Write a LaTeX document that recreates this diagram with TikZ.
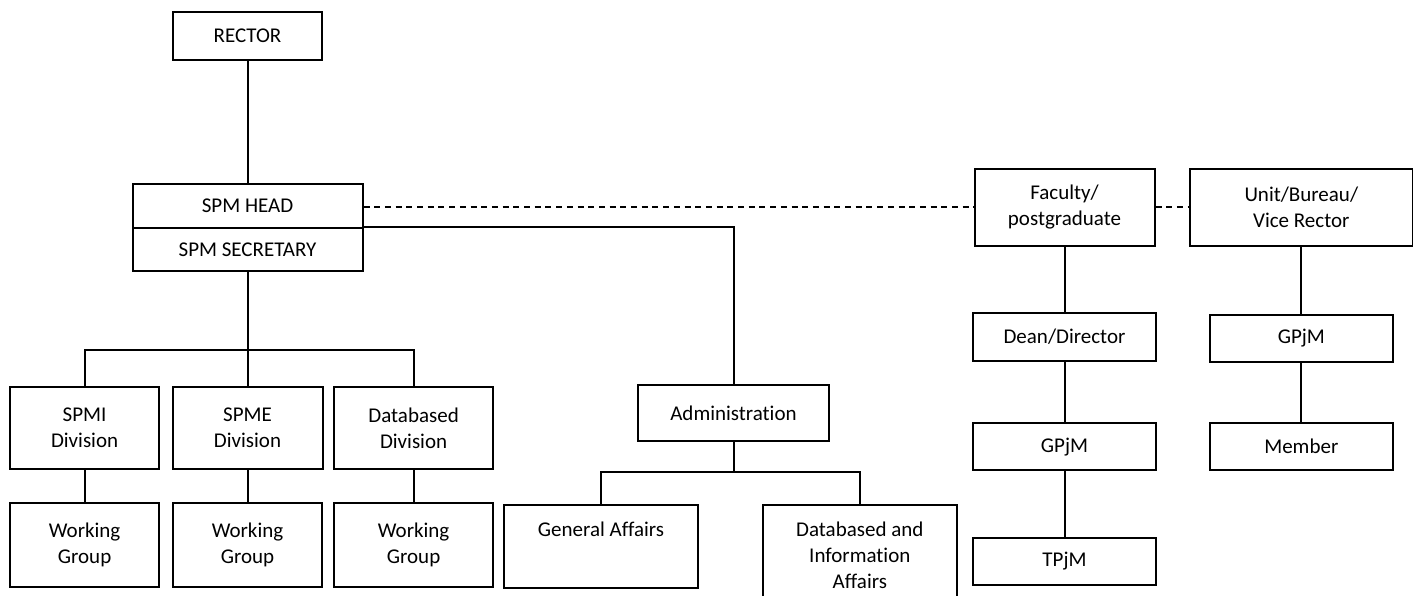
\documentclass[tikz,border=0pt]{standalone}
\usepackage{fontspec}
\setmainfont{Carlito}[Ligatures=NoCommon]
\begin{document}
\begin{tikzpicture}[x=1pt,y=-1pt,
  box/.style={draw, line width=2pt, inner sep=0pt, align=center,
              font=\fontsize{21}{26}\selectfont},
  link/.style={line width=2pt},
  dashlink/.style={line width=2pt, dash pattern=on 6pt off 4.7pt}]
\useasboundingbox (0,0) rectangle (1413,596);

% top of the hierarchy
\node[box, minimum width=149pt, minimum height=48pt] (rector) at (247.5,36) {RECTOR};
\node[box, minimum width=230pt, minimum height=44.3pt] (head) at (247.5,206.2) {SPM HEAD};
\node[box, minimum width=230pt, minimum height=42.4pt] (sec) at (247.5,249.5) {SPM SECRETARY};

% divisions and working groups
\node[box, minimum width=149pt, minimum height=82.6pt] (spmi) at (84.6,428) {SPMI\\Division};
\node[box, minimum width=150pt, minimum height=82.6pt] (spme) at (247.5,428) {SPME\\Division};
\node[box, minimum width=158.7pt, minimum height=82.6pt] (dbd) at (413.6,428) {Databased\\Division};
\node[box, minimum width=149.7pt, minimum height=84pt] (wg1) at (84.6,545.3) {Working\\Group};
\node[box, minimum width=149pt, minimum height=84pt] (wg2) at (247.5,545.3) {Working\\Group};
\node[box, minimum width=159pt, minimum height=84pt] (wg3) at (413.6,545.3) {Working\\Group};

% administration branch
\node[box, minimum width=191.6pt, minimum height=55.4pt] (adm) at (733.5,413) {Administration};
\node[box, minimum width=193.4pt, minimum height=83pt, text height=31.3pt, text depth=51.7pt] (ga) at (601,546.2) {General Affairs};
\node[box, minimum width=193.7pt, minimum height=101.3pt] (dia) at (859.8,555.3) {Databased and\\Information\\Affairs};

% faculty column
\node[box, minimum width=180pt, minimum height=76.4pt] (fac) at (1064.5,207.5) {Faculty/\\postgraduate};
\node[box, minimum width=182.7pt, minimum height=47.4pt] (dean) at (1064.5,337) {Dean/Director};
\node[box, minimum width=182.7pt, minimum height=46.7pt] (gpjmA) at (1064.5,446.7) {GPjM};
\node[box, minimum width=182.7pt, minimum height=47.3pt] (tpjm) at (1064.5,561.3) {TPjM};

% unit column
\node[box, minimum width=222.5pt, minimum height=76.4pt] (unit) at (1301.3,207.5) {Unit/Bureau/\\Vice Rector};
\node[box, minimum width=183pt, minimum height=47pt] (gpjmB) at (1301.3,338.5) {GPjM};
\node[box, minimum width=183pt, minimum height=46.7pt] (member) at (1301.3,446.7) {Member};

% junction points
\coordinate (divbar) at (247.5,350);
\coordinate (admbar) at (733.5,472.3);

% solid connectors
\draw[link] (rector) -- (head);
\draw[link] (sec.south) -- (spme.north);
\draw[link] (spmi.north) |- (divbar) -| (dbd.north);
\draw[link] (spmi) -- (wg1);
\draw[link] (spme) -- (wg2);
\draw[link] (dbd) -- (wg3);
\draw[link] (sec.north east) -| (adm.north);
\draw[link] (adm.south) -- (admbar);
\draw[link] (ga.north) |- (admbar) -| (dia.north);
\draw[link] (fac) -- (dean);
\draw[link] (dean) -- (gpjmA);
\draw[link] (gpjmA) -- (tpjm);
\draw[link] (unit) -- (gpjmB);
\draw[link] (gpjmB) -- (member);

% dashed coordination lines
\draw[dashlink] (head.east |- fac.west) -- (fac.west);
\draw[dashlink] (fac.east) -- (unit.west);
\end{tikzpicture}
\end{document}
